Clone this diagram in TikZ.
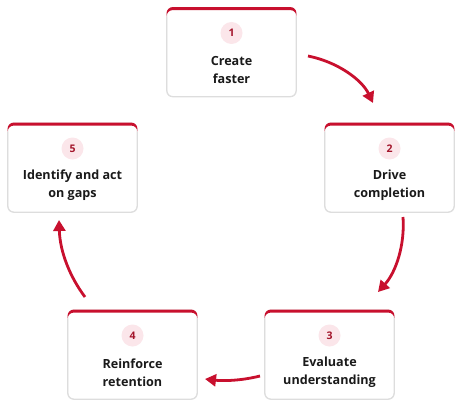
\documentclass[tikz,border=0pt]{standalone}
\usepackage{fontspec}
\setmainfont{Open Sans}
\usetikzlibrary{arrows.meta,calc}
\definecolor{accent}{HTML}{C8102E}
\definecolor{numred}{HTML}{A3152B}
\definecolor{pinkbg}{HTML}{FBE6EA}
\definecolor{bordergray}{HTML}{DDDDDD}
\definecolor{txt}{HTML}{1A1A1A}
\tikzset{
  card/.style={draw=bordergray, line width=0.8pt, fill=white, rounded corners=6pt,
    minimum width=129pt, minimum height=89pt, inner sep=0pt},
  numdot/.style={circle, fill=pinkbg, minimum size=22pt, inner sep=0pt,
    text=numred, font=\fontsize{10.5}{12}\selectfont\bfseries},
  cardtext/.style={align=center, text=txt, font=\fontsize{12.6}{18}\selectfont\bfseries},
  flow/.style={accent, line width=2.8pt, -{Triangle[length=11pt,width=12pt]}}
}
\newcommand{\mycard}[5]{%
  \node[card] (#1) at (#2,#3) {};
  \begin{scope}
    \clip[rounded corners=6pt] (#1.south west) rectangle (#1.north east);
    \clip ($(#1.north west)+(-4,-4)$) rectangle ($(#1.north east)+(4,12)$);
    \fill[accent, even odd rule]
      ($(#1.north west)+(-4,-4)$) rectangle ($(#1.south east)+(4,30)$)
      [rounded corners=6pt] ($(#1.north west)+(0,3)$) rectangle ($(#1.south east)+(0,20)$);
  \end{scope}
  \begin{scope}
    \clip ($(#1.north west)+(-3,10)$) rectangle ($(#1.south east)+(3,3)$);
    \draw[bordergray, line width=0.8pt, rounded corners=6pt] (#1.south west) rectangle (#1.north east);
  \end{scope}
  \node[numdot] (#1n) at (#2,#3-19) {#4};
  \node[cardtext] (#1t) at (#2,#3+18) {#5};
}
\begin{document}
\begin{tikzpicture}[x=1pt,y=-1pt]
\useasboundingbox (0,0) rectangle (465,409);
\mycard{c1}{231.5}{52}{1}{Create\\faster}
\mycard{c2}{389.5}{167.5}{2}{Drive\\completion}
\mycard{c3}{329.5}{354.5}{3}{Evaluate\\understanding}
\mycard{c4}{132.5}{354.5}{4}{Reinforce\\retention}
\mycard{c5}{72.5}{167.5}{5}{Identify and act\\on gaps}
\coordinate (a1s) at (308,56);
\coordinate (a1e) at (373,103);
\coordinate (a2s) at (403,217);
\coordinate (a2e) at (378,292);
\coordinate (a3s) at (260,376);
\coordinate (a3e) at (205,379);
\coordinate (a4s) at (85,297);
\coordinate (a4e) at (59,220);
\draw[flow] (a1s) .. controls (338,62) and (362,80) .. (a1e);
\draw[flow] (a2s) .. controls (405,245) and (396,272) .. (a2e);
\draw[flow] (a3s) .. controls (240,381) and (222,381) .. (a3e);
\draw[flow] (a4s) .. controls (70,277) and (60,252) .. (a4e);
\end{tikzpicture}
\end{document}
